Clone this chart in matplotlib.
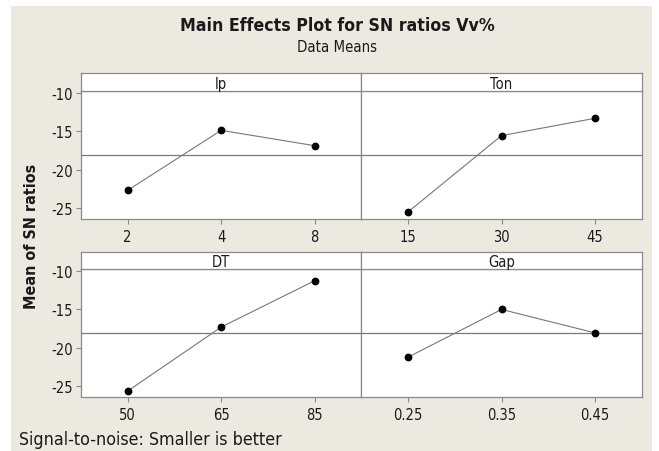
import matplotlib
matplotlib.use("Agg")
import matplotlib.pyplot as plt
from matplotlib.patches import Rectangle

# main effects data (means of SN ratios per level)
factors = ["Ip", "Ton", "DT", "Gap"]
ip_levels = ["2", "4", "8"]
ip_means = [-22.69, -14.87, -16.87]
ton_levels = ["15", "30", "45"]
ton_means = [-25.51, -15.56, -13.30]
dt_levels = ["50", "65", "85"]
dt_means = [-25.65, -17.34, -11.31]
gap_levels = ["0.25", "0.35", "0.45"]
gap_means = [-21.25, -15.04, -18.09]
y_ticks = [-10, -15, -20, -25]

plt.rcParams["font.family"] = "DejaVu Sans"
plt.rcParams["font.stretch"] = "condensed"
plt.rcParams["axes.unicode_minus"] = False

W, H = 659, 452
BG = "#ECE9E0"
EDGE = "#8a8a8a"
TXT = "#1a1a1a"

fig = plt.figure(figsize=(W / 100, H / 100), dpi=100, facecolor="white")
fig.patches.append(Rectangle((11 / W, 0), (652 - 11) / W, 1 - 7 / H,
                             transform=fig.transFigure, facecolor=BG,
                             edgecolor="none", zorder=-10))

def fx(px):
    return px / W

def fy(py):
    return 1 - py / H

levels_all = [ip_levels, ton_levels, dt_levels, gap_levels]
means_all = [ip_means, ton_means, dt_means, gap_means]
allvals = ip_means + ton_means + dt_means + gap_means
grand_mean = sum(allvals) / len(allvals)

cols = [(81, 361.3), (361.3, 641.7)]
rows = [(74, 92.3, 220), (252.7, 270, 398)]

for i in range(4):
    r, c = divmod(i, 2)
    x0, x1 = cols[c]
    htop, ptop, pbot = rows[r]
    ax = fig.add_axes([fx(x0), fy(pbot), (x1 - x0) / W, (pbot - ptop) / H])
    hx = fig.add_axes([fx(x0), fy(ptop), (x1 - x0) / W, (ptop - htop) / H])

    xs = list(range(len(levels_all[i])))
    ax.axhline(grand_mean, color="#7a7a7a", lw=0.9, zorder=1)
    ax.plot(xs, means_all[i], color="#777777", lw=0.8, zorder=2)
    ax.plot(xs, means_all[i], "o", color="black", ms=4.6, zorder=3)
    ax.set_xlim(-0.5, 2.5)
    ax.set_ylim(-26.43, -9.78)
    ax.set_xticks(xs)
    ax.set_xticklabels(levels_all[i])
    ax.set_yticks(y_ticks)
    ax.tick_params(axis="x", direction="out", length=3.6, width=0.8,
                   color=EDGE, pad=3.5, labelsize=10.5, labelcolor=TXT)
    if c == 0:
        ax.tick_params(axis="y", direction="out", length=3.6, width=0.8,
                       color=EDGE, pad=2.5, labelsize=10.5, labelcolor=TXT)
    else:
        ax.tick_params(axis="y", left=False, labelleft=False)
    for s in ax.spines.values():
        s.set_color(EDGE)
        s.set_linewidth(0.9)

    hx.set_xticks([])
    hx.set_yticks([])
    hx.set_facecolor("white")
    for s in hx.spines.values():
        s.set_color(EDGE)
        s.set_linewidth(0.9)
    hx.text(0.5, 0.45, factors[i], ha="center", va="center",
            fontsize=10.5, color=TXT, transform=hx.transAxes)

fig.text(fx(337), fy(30.7), "Main Effects Plot for SN ratios Vv%",
         ha="center", va="baseline", fontsize=12.7, fontweight="bold", color=TXT)
fig.text(fx(337), fy(52.5), "Data Means", ha="center", va="baseline",
         fontsize=10.7, color=TXT)
fig.text(fx(32), fy(236), "Mean of SN ratios", rotation=90, ha="center",
         va="center", fontsize=11.5, fontweight="bold", color=TXT)
fig.text(fx(19), fy(445), "Signal-to-noise: Smaller is better", ha="left",
         va="baseline", fontsize=12.8, color=TXT)

fig.savefig("out.png", dpi=100, facecolor="white")
